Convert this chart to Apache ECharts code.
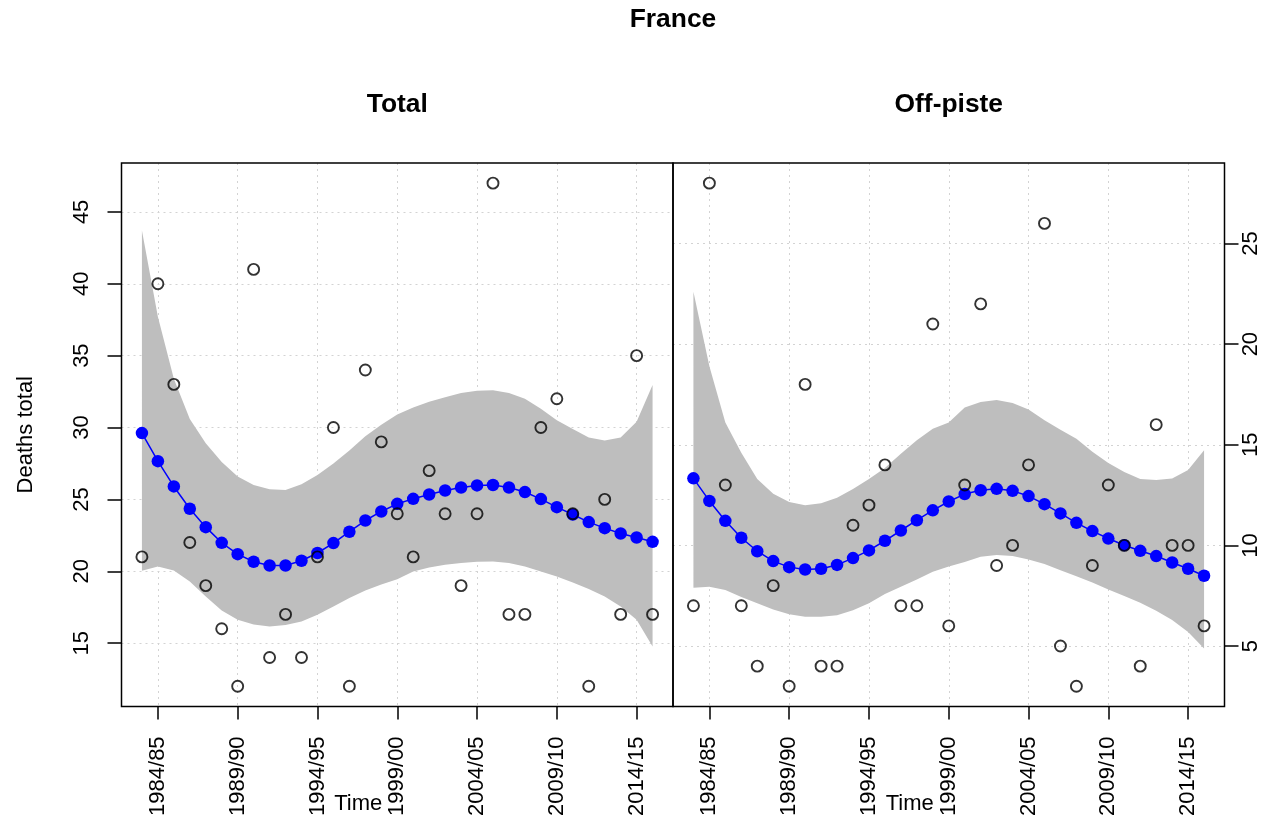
<!DOCTYPE html>
<html>
<head>
<meta charset="utf-8">
<script src="https://cdn.jsdelivr.net/npm/echarts@6/dist/echarts.min.js"></script>
<style>
html,body{margin:0;padding:0;background:#fff;}
#chart{width:1283px;height:823px;}
</style>
</head>
<body>
<div id="chart"></div>
<script>
const seasons = ['1983/84','1984/85','1985/86','1986/87','1987/88','1988/89','1989/90','1990/91','1991/92','1992/93','1993/94','1994/95','1995/96','1996/97','1997/98','1998/99','1999/00','2000/01','2001/02','2002/03','2003/04','2004/05','2005/06','2006/07','2007/08','2008/09','2009/10','2010/11','2011/12','2012/13','2013/14','2014/15','2015/16'];
const xTickLabels = ['1984/85','1989/90','1994/95','1999/00','2004/05','2009/10','2014/15'];
const totalTicks = [15,20,25,30,35,40,45];
const offTicks = [5,10,15,20,25];

const totalDeaths = [21,40,33,22,19,16,12,41,14,17,14,21,30,12,34,29,24,21,27,24,19,24,47,17,17,30,32,24,12,25,17,35,17];
const totalFit = [29.61,27.66,25.90,24.35,23.07,21.98,21.19,20.66,20.40,20.40,20.73,21.27,21.96,22.75,23.53,24.16,24.69,25.04,25.34,25.62,25.83,25.97,26.00,25.83,25.51,25.02,24.46,23.95,23.42,23.00,22.63,22.35,22.05];
const totalLower = [20.03,20.33,20.06,19.29,18.25,17.27,16.63,16.30,16.16,16.26,16.51,16.98,17.55,18.14,18.67,19.08,19.45,19.99,20.26,20.45,20.57,20.66,20.68,20.57,20.33,19.99,19.64,19.22,18.76,18.25,17.55,16.63,14.77];
const totalUpper = [43.7,37.7,33.4,30.6,28.9,27.6,26.6,26.0,25.7,25.65,26.05,26.7,27.5,28.4,29.4,30.2,30.9,31.4,31.8,32.1,32.4,32.55,32.6,32.4,32.0,31.3,30.5,29.9,29.3,29.1,29.3,30.4,32.95];

const offDeaths = [7,28,13,7,4,8,3,18,4,4,11,12,14,7,7,21,6,13,22,9,10,14,26,5,3,9,13,10,4,16,10,10,6];
const offFit = [13.33,12.21,11.22,10.38,9.71,9.22,8.92,8.80,8.84,9.03,9.37,9.75,10.23,10.74,11.25,11.74,12.18,12.55,12.74,12.81,12.71,12.45,12.05,11.59,11.12,10.71,10.34,10.01,9.73,9.47,9.15,8.84,8.49];
const offLower = [7.89,7.94,7.78,7.44,7.12,6.82,6.58,6.45,6.45,6.53,6.78,7.12,7.58,7.94,8.31,8.69,8.95,9.18,9.43,9.52,9.47,9.30,9.07,8.77,8.47,8.16,7.81,7.48,7.15,6.75,6.29,5.70,4.88];
const offUpper = [22.6,18.9,16.1,14.6,13.3,12.56,12.15,12.0,12.1,12.37,12.8,13.3,13.85,14.55,15.23,15.8,16.1,16.85,17.13,17.22,17.08,16.75,16.22,15.75,15.3,14.65,14.1,13.65,13.3,13.25,13.32,13.74,14.73];

const FONT = '"Liberation Sans", Arial, Helvetica, sans-serif';
const tickIdx = xTickLabels.map(l => seasons.indexOf(l));
const pairs = arr => arr.map((v, i) => [i, v]);

function xAxisFor(gi) {
  return {
    type: 'value', gridIndex: gi, min: -1.28, max: 33.28, position: 'bottom',
    axisLine: {show: false, onZero: false},
    axisTick: {show: true, customValues: tickIdx, length: 13, lineStyle: {color: '#000', width: 1.5}},
    axisLabel: {customValues: tickIdx, rotate: 90, margin: 30, fontSize: 22, color: '#000', fontFamily: FONT,
      formatter: v => seasons[Math.round(v)]},
    splitLine: {show: true, lineStyle: {color: '#d3d3d3', type: [2, 4], width: 1}},
    name: 'Time', nameLocation: 'middle', nameGap: 87, nameMoveOverlap: false,
    nameTextStyle: {fontSize: 22, color: '#000', fontFamily: FONT, padding: [0, 78, 0, 0]}
  };
}
function yAxisFor(gi, min, max, ticks, pos, margin, name) {
  const ax = {
    type: 'value', gridIndex: gi, min: min, max: max, position: pos,
    axisLine: {show: false, onZero: false},
    axisTick: {show: true, customValues: ticks, length: 14, lineStyle: {color: '#000', width: 1.5}},
    axisLabel: {customValues: ticks, rotate: 90, margin: margin, fontSize: 22, color: '#000', fontFamily: FONT},
    splitLine: {show: true, lineStyle: {color: '#d3d3d3', type: [2, 4], width: 1}}
  };
  if (name) {
    ax.name = name; ax.nameLocation = 'middle'; ax.nameGap = 85; ax.nameMoveOverlap = false;
    ax.nameTextStyle = {fontSize: 22, color: '#000', fontFamily: FONT};
  }
  return ax;
}
function bandSeries(gi, lower, upper) {
  return {
    type: 'custom', xAxisIndex: gi, yAxisIndex: gi, silent: true, z: 1,
    data: lower.map((v, i) => [i, v, upper[i]]),
    encode: {x: 0, y: [1, 2]},
    renderItem: function (params, api) {
      if (params.dataIndex !== 0) return null;
      const pts = [];
      for (let j = 0; j < upper.length; j++) pts.push(api.coord([j, upper[j]]));
      for (let j = lower.length - 1; j >= 0; j--) pts.push(api.coord([j, lower[j]]));
      return {type: 'polygon', shape: {points: pts}, style: {fill: '#bebebe', stroke: null}};
    }
  };
}
function fitSeries(gi, fit) {
  return {
    type: 'line', xAxisIndex: gi, yAxisIndex: gi, data: pairs(fit), silent: true, z: 3,
    symbol: 'circle', symbolSize: 12.5, showAllSymbol: true,
    itemStyle: {color: '#0000ff'}, lineStyle: {color: '#0000ff', width: 1.5}
  };
}
function pointSeries(gi, vals) {
  return {
    type: 'scatter', xAxisIndex: gi, yAxisIndex: gi, data: pairs(vals), silent: true, z: 4,
    symbol: 'circle', symbolSize: 11,
    itemStyle: {color: 'rgba(0,0,0,0)', borderColor: '#000', borderWidth: 1.9}
  };
}

const chart = echarts.init(document.getElementById('chart'), null, {renderer: 'canvas'});
chart.setOption({
  animation: false,
  backgroundColor: '#fff',
  title: [
    {text: 'France', left: 673, top: 20, textAlign: 'center', textVerticalAlign: 'middle', padding: 0,
      textStyle: {fontSize: 26.4, fontWeight: 'bold', color: '#000', fontFamily: FONT}},
    {text: 'Total', left: 397.3, top: 105, textAlign: 'center', textVerticalAlign: 'middle', padding: 0,
      textStyle: {fontSize: 26.4, fontWeight: 'bold', color: '#000', fontFamily: FONT}},
    {text: 'Off-piste', left: 948.8, top: 105, textAlign: 'center', textVerticalAlign: 'middle', padding: 0,
      textStyle: {fontSize: 26.4, fontWeight: 'bold', color: '#000', fontFamily: FONT}}
  ],
  grid: [
    {left: 121.5, top: 163, width: 551.5, height: 543.4, show: true, borderColor: '#000', borderWidth: 1.5,
      backgroundColor: 'transparent', z: 5, containLabel: false, outerBoundsMode: 'none'},
    {left: 673, top: 163, width: 551.5, height: 543.4, show: true, borderColor: '#000', borderWidth: 1.5,
      backgroundColor: 'transparent', z: 5, containLabel: false, outerBoundsMode: 'none'}
  ],
  xAxis: [xAxisFor(0), xAxisFor(1)],
  yAxis: [
    yAxisFor(0, 10.6, 48.4, totalTicks, 'left', 29, 'Deaths total'),
    yAxisFor(1, 2, 29, offTicks, 'right', 15, null)
  ],
  series: [
    bandSeries(0, totalLower, totalUpper),
    fitSeries(0, totalFit),
    pointSeries(0, totalDeaths),
    bandSeries(1, offLower, offUpper),
    fitSeries(1, offFit),
    pointSeries(1, offDeaths)
  ]
});
</script>
</body>
</html>
